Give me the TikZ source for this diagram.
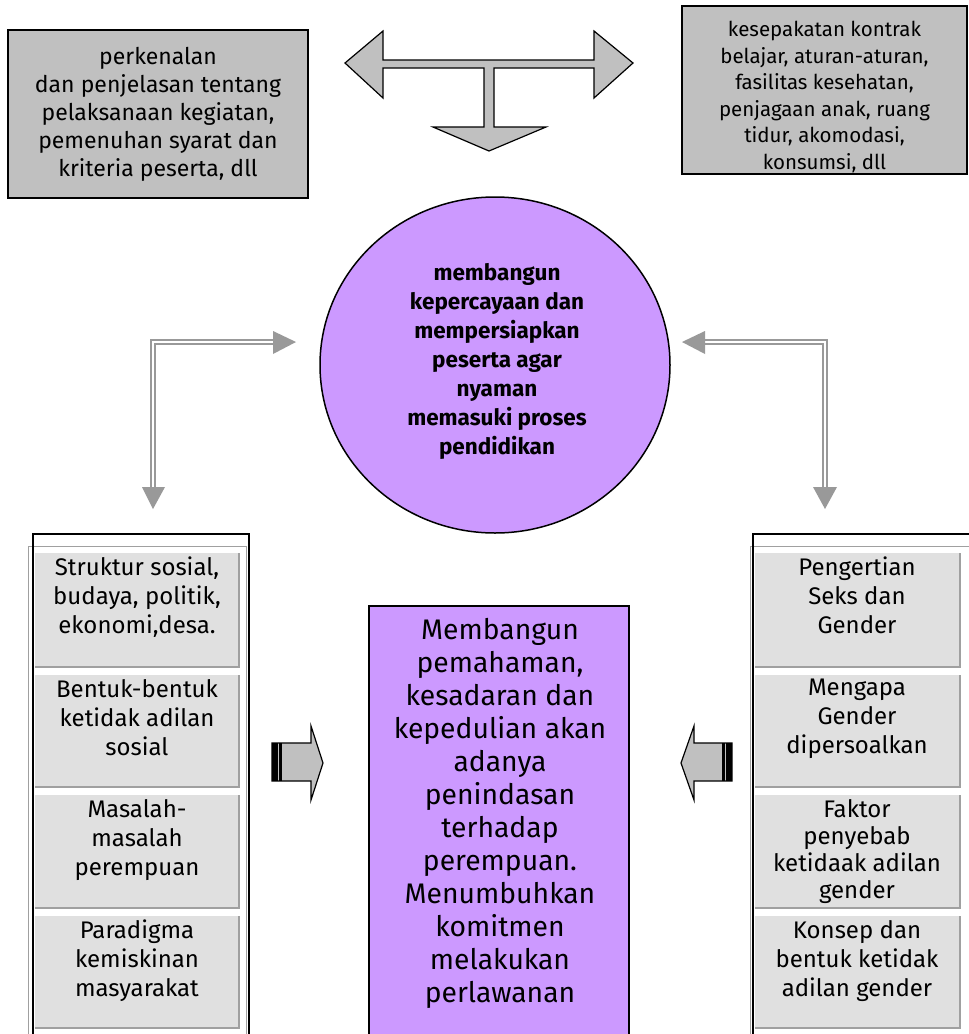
\documentclass[tikz,border=0pt]{standalone}
\usepackage{fontspec}
\setmainfont{Fira Sans}
\usetikzlibrary{shapes.geometric}
\definecolor{boxgray}{HTML}{C0C0C0}
\definecolor{cellgray}{HTML}{E0E0E0}
\definecolor{celledge}{HTML}{A0A0A0}
\definecolor{lila}{HTML}{CC99FF}
\definecolor{arrgray}{HTML}{999999}
\tikzset{
  topbox/.style={draw=black, line width=1.5pt, fill=boxgray, inner sep=0pt},
  celltext/.style={align=center, anchor=north, inner sep=0pt, font=\fontsize{24}{29}\selectfont},
  dblline/.style={draw=arrgray, line width=2pt, double=white, double distance=2pt},
  headfill/.style={fill=arrgray, draw=none},
  blockarrow/.style={fill=boxgray, draw=black, line width=1.2pt, line join=miter},
}
\begin{document}
\begin{tikzpicture}[x=1pt,y=-1pt]
\useasboundingbox (0,0) rectangle (969,1034);
\fill[white] (0,0) rectangle (969,1034);

% top boxes
\node[topbox, minimum width=300pt, minimum height=168pt, align=center,
  font=\fontsize{23}{28}\selectfont] (tl) at (158,114)
  {perkenalan\\dan penjelasan tentang\\pelaksanaan kegiatan,\\pemenuhan syarat dan\\kriteria peserta, dll};
\node[topbox, minimum width=285pt, minimum height=168pt] (tr) at (824.5,90) {};
\node[align=center, inner sep=0pt, font=\fontsize{20.5}{26.5}\selectfont] (trt) at (824.5,97)
  {kesepakatan kontrak\\belajar, aturan-aturan,\\fasilitas kesehatan,\\penjagaan anak, ruang\\tidur, akomodasi,\\konsumsi, dll};

% T arrow
\draw[blockarrow] (345,63) -- (383,31) -- (383,60) -- (594,60) -- (594,31) -- (633,63)
  -- (594,98) -- (594,68) -- (494,68) -- (494,127) -- (546,127) -- (489,151)
  -- (433,127) -- (484,127) -- (484,68) -- (383,68) -- (383,98) -- cycle;

% circle
\node[ellipse, draw=black, line width=1.5pt, fill=lila, minimum width=350pt,
  minimum height=336pt, inner sep=0pt] (circ) at (495,365) {};
\node[align=center, inner sep=0pt, font=\bfseries\fontsize{22.5}{29}\selectfont] (circt) at (497,361)
  {membangun\\kepercayaan dan\\mempersiapkan\\peserta agar\\nyaman\\memasuki proses\\pendidikan};

% L arrows
\coordinate (lc) at (153,342);
\coordinate (lh) at (273,342);
\coordinate (lv) at (153,487);
\draw[dblline] (lh) -- (lc) -- (lv);
\fill[headfill] (273,331) -- (296,342) -- (273,354) -- cycle;
\fill[headfill] (142,487) -- (153,509) -- (165,487) -- cycle;

\coordinate (rc) at (825,342);
\coordinate (rh) at (705,342);
\coordinate (rv) at (825,487);
\draw[dblline] (rh) -- (rc) -- (rv);
\fill[headfill] (705,331) -- (682,342) -- (705,354) -- cycle;
\fill[headfill] (813,487) -- (825,509) -- (837,487) -- cycle;

% left column frame
\draw[celledge, line width=1pt] (28,1034) -- (28,546) -- (246,546) -- (246,1034);
\draw[black, line width=1.5pt] (33,1034) -- (33,534) -- (249,534) -- (249,1034);
% right column frame
\draw[celledge, line width=1pt] (750,1034) -- (750,546) -- (969,546);
\draw[black, line width=1.5pt] (753,1034) -- (753,534) -- (969,534);

% cells
\foreach \xa/\xb in {35/239, 755/960}{
  \foreach \ya/\yb in {553/667, 675/787, 795/908, 916/1028}{
    \fill[cellgray] (\xa,\ya) rectangle (\xb,\yb);
    \draw[celledge, line width=2pt] (\xa,\yb) -- (\xb,\yb) -- (\xb,\ya);
  }
}
\node[celltext] (l1) at (137,557) {Struktur sosial,\\budaya, politik,\\ekonomi,desa.};
\node[celltext] (l2) at (137,679) {Bentuk-bentuk\\ketidak adilan\\sosial};
\node[celltext] (l3) at (137,799) {Masalah-\\masalah\\perempuan};
\node[celltext] (l4) at (137,920) {Paradigma\\kemiskinan\\masyarakat};
\node[celltext] (r1) at (857,557) {Pengertian\\Seks dan\\Gender};
\node[celltext] (r2) at (857,679) {Mengapa\\Gender\\dipersoalkan};
\node[celltext, font=\fontsize{24}{27}\selectfont] (r3) at (857,799) {Faktor\\penyebab\\ketidaak adilan\\gender};
\node[celltext] (r4) at (857,920) {Konsep dan\\bentuk ketidak\\adilan gender};

% centre box
\draw[black, line width=1.5pt, fill=lila] (369,1040) -- (369,606) -- (629,606) -- (629,1040);
\node[align=center, anchor=north, inner sep=0pt, font=\fontsize{28.3}{33}\selectfont] (cb) at (500,618)
  {Membangun\\pemahaman,\\kesadaran dan\\kepedulian akan\\adanya\\penindasan\\terhadap\\perempuan.\\Menumbuhkan\\komitmen\\melakukan\\perlawanan};

% striped block arrows
\draw[blockarrow] (272,743) -- (311,743) -- (311,726) -- (323,763) -- (311,800) -- (311,781) -- (272,781) -- cycle;
\fill[black] (272,743) rectangle (278,781);
\fill[black] (279,743) rectangle (282,781);
\draw[blockarrow] (732,743) -- (694,743) -- (694,726) -- (681,763) -- (694,800) -- (694,781) -- (732,781) -- cycle;
\fill[black] (726,743) rectangle (732,781);
\fill[black] (722,743) rectangle (725,781);
\end{tikzpicture}
\end{document}
